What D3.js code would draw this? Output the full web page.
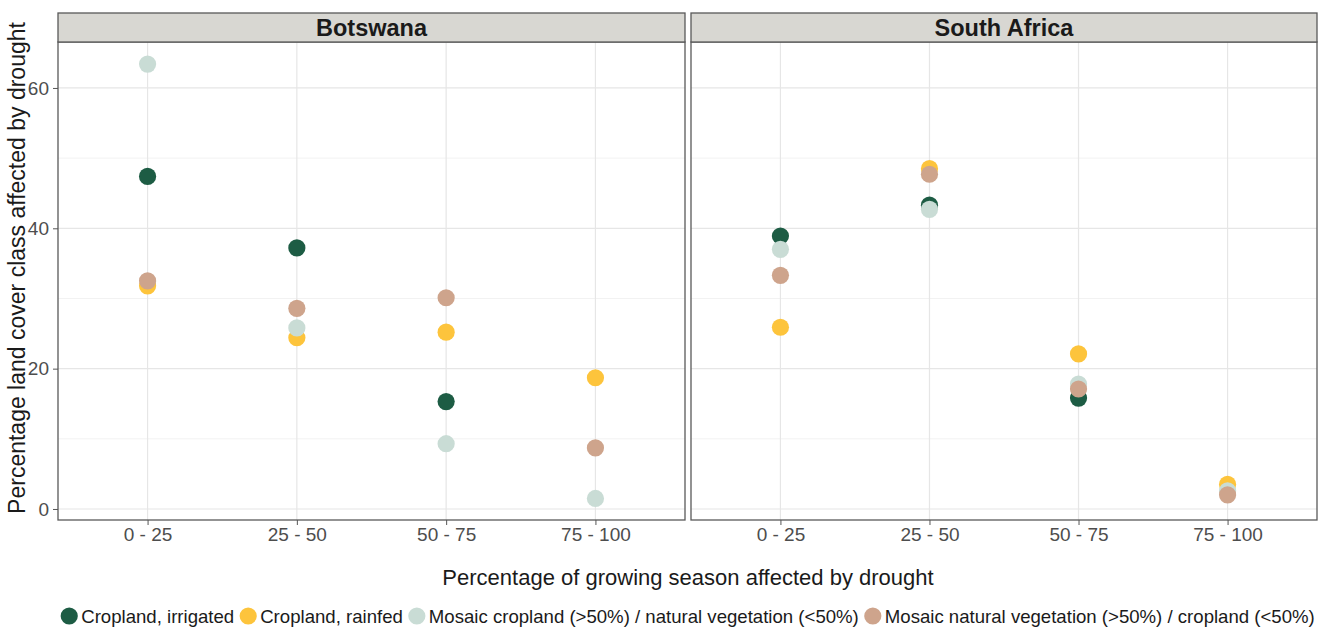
<!DOCTYPE html>
<html>
<head>
<meta charset="utf-8">
<script src="https://cdn.jsdelivr.net/npm/d3@7"></script>
<style>
  body { margin: 0; background: #fff; }
  svg text { font-family: "Liberation Sans", Arial, sans-serif; }
</style>
</head>
<body>
<svg id="chart" width="1320" height="628"></svg>
<script>
const categories = ["0 - 25", "25 - 50", "50 - 75", "75 - 100"];
const countries = ["Botswana", "South Africa"];
const seriesNames = [
  "Cropland, irrigated",
  "Cropland, rainfed",
  "Mosaic cropland (>50%) / natural vegetation (<50%)",
  "Mosaic natural vegetation (>50%) / cropland (<50%)"
];
const seriesColors = ["#1d5c44", "#fdc43c", "#c9dcd5", "#cea48c"];

// values per series, in category order (null = not shown)
const botswana = [
  [47.4, 37.2, 15.3, null],
  [31.8, 24.4, 25.2, 18.7],
  [63.4, 25.8, 9.3, 1.5],
  [32.5, 28.6, 30.1, 8.7]
];
const southAfrica = [
  [38.9, 43.3, 15.8, null],
  [25.9, 48.5, 22.1, 3.5],
  [37.0, 42.7, 17.8, 2.6],
  [33.3, 47.7, 17.1, 2.0]
];
const yTicks = [0, 20, 40, 60];
const yMinor = [10, 30, 50];

const svg = d3.select("#chart");
const panels = [
  { name: countries[0], x0: 58, x1: 685, data: botswana },
  { name: countries[1], x0: 691, x1: 1317, data: southAfrica }
];
const plotTop = 42, plotBottom = 520, stripTop = 13;

const y = d3.scaleLinear().domain([-1.57, 66.55]).range([plotBottom, plotTop]);

panels.forEach(p => {
  const x = d3.scalePoint().domain(categories).range([p.x0, p.x1]).padding(0.6);
  const g = svg.append("g");

  g.append("rect")
    .attr("x", p.x0).attr("y", plotTop)
    .attr("width", p.x1 - p.x0).attr("height", plotBottom - plotTop)
    .attr("fill", "#fff");

  // grid
  g.selectAll(".minor").data(yMinor).enter().append("line")
    .attr("x1", p.x0).attr("x2", p.x1)
    .attr("y1", d => y(d)).attr("y2", d => y(d))
    .attr("stroke", "#f2f2f2").attr("stroke-width", 1);
  g.selectAll(".major").data(yTicks).enter().append("line")
    .attr("x1", p.x0).attr("x2", p.x1)
    .attr("y1", d => y(d)).attr("y2", d => y(d))
    .attr("stroke", "#e6e6e6").attr("stroke-width", 1.2);
  g.selectAll(".vgrid").data(categories).enter().append("line")
    .attr("x1", d => x(d)).attr("x2", d => x(d))
    .attr("y1", plotTop).attr("y2", plotBottom)
    .attr("stroke", "#e6e6e6").attr("stroke-width", 1.2);

  // points
  p.data.forEach((vals, si) => {
    g.selectAll(null)
      .data(vals.map((v, i) => ({ cat: categories[i], v: v })).filter(d => d.v !== null))
      .enter().append("circle")
      .attr("cx", d => x(d.cat))
      .attr("cy", d => y(d.v))
      .attr("r", 8.6)
      .attr("fill", seriesColors[si]);
  });

  // border
  g.append("rect")
    .attr("x", p.x0).attr("y", plotTop)
    .attr("width", p.x1 - p.x0).attr("height", plotBottom - plotTop)
    .attr("fill", "none").attr("stroke", "#595959").attr("stroke-width", 1.3);

  // strip
  g.append("rect")
    .attr("x", p.x0).attr("y", stripTop)
    .attr("width", p.x1 - p.x0).attr("height", plotTop - stripTop)
    .attr("fill", "#d8d7d2").attr("stroke", "#595959").attr("stroke-width", 1.3);
  g.append("text")
    .attr("x", (p.x0 + p.x1) / 2).attr("y", (stripTop + plotTop) / 2 + 8)
    .attr("text-anchor", "middle")
    .style("font-size", "23.5px").style("font-weight", "bold").attr("fill", "#1a1a1a")
    .text(p.name);

  // x axis
  const xa = g.append("g")
    .attr("transform", "translate(0," + plotBottom + ")")
    .call(d3.axisBottom(x).tickSize(5).tickPadding(3));
  xa.select(".domain").remove();
  xa.selectAll("line").attr("stroke", "#555");
  xa.selectAll("text").style("font-size", "19px").attr("fill", "#4d4d4d");
});

// y axis (left panel only)
const ya = svg.append("g")
  .attr("transform", "translate(58,0)")
  .call(d3.axisLeft(y).tickValues(yTicks).tickSize(5).tickPadding(4));
ya.select(".domain").remove();
ya.selectAll("line").attr("stroke", "#555");
ya.selectAll("text").style("font-size", "19px").attr("fill", "#4d4d4d");

// axis titles
svg.append("text")
  .attr("x", 688).attr("y", 585)
  .attr("text-anchor", "middle")
  .style("font-size", "22px").attr("fill", "#1a1a1a")
  .text("Percentage of growing season affected by drought");
svg.append("text")
  .attr("transform", "translate(25,268) rotate(-90)")
  .attr("text-anchor", "middle")
  .style("font-size", "23px").attr("fill", "#1a1a1a")
  .text("Percentage land cover class affected by drought");

// legend
const leg = svg.append("g");
let lx = 0;
seriesNames.forEach((name, i) => {
  const item = leg.append("g").attr("transform", "translate(" + lx + ",0)");
  item.append("circle").attr("cx", 9).attr("cy", 0).attr("r", 8.6).attr("fill", seriesColors[i]);
  const t = item.append("text")
    .attr("x", 21).attr("y", 6.5)
    .style("font-size", "18.6px").attr("fill", "#1a1a1a")
    .text(name);
  lx += 21 + t.node().getComputedTextLength() + 5;
});
leg.attr("transform", "translate(" + (690 - lx / 2) + ",616)");
</script>
</body>
</html>
